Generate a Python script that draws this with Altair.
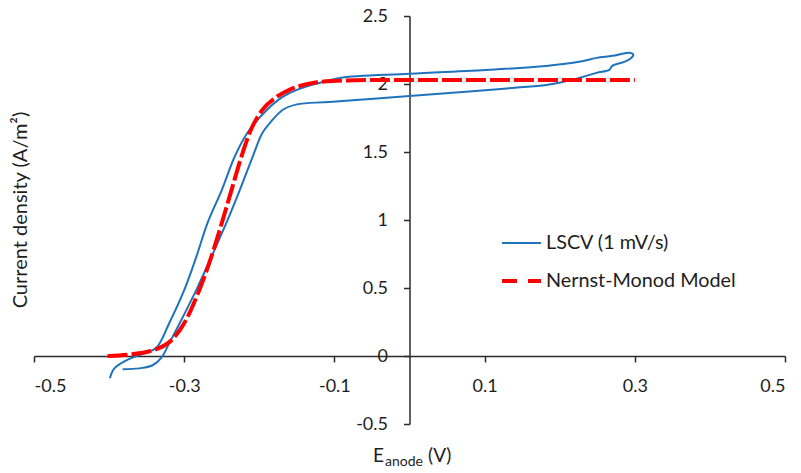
import altair as alt
import pandas as pd

# LSCV loop (forward then return scan)
lscv_x = [-0.399, -0.393, -0.377, -0.353, -0.337, -0.320, -0.300, -0.284, -0.269, -0.250,
          -0.233, -0.216, -0.190, -0.169, -0.150, -0.120, -0.093, 0.000, 0.107, 0.182,
          0.226, 0.249, 0.270, 0.293, 0.298,
          0.294, 0.286, 0.270, 0.266, 0.249, 0.226, 0.204, 0.182, 0.137, 0.071,
          0.000, -0.107, -0.150, -0.169, -0.186, -0.196, -0.209, -0.226, -0.244, -0.264,
          -0.284, -0.306, -0.320, -0.330, -0.342, -0.360, -0.382]
lscv_y = [-0.164, -0.091, -0.032, 0.020, 0.060, 0.241, 0.484, 0.727, 0.977, 1.220,
          1.463, 1.640, 1.809, 1.905, 1.957, 2.008, 2.045, 2.075, 2.104, 2.133,
          2.163, 2.192, 2.207, 2.229, 2.215,
          2.185, 2.163, 2.133, 2.104, 2.082, 2.045, 2.015, 1.993, 1.971, 1.941,
          1.912, 1.868, 1.850, 1.809, 1.713, 1.640, 1.463, 1.220, 0.977, 0.727,
          0.484, 0.241, 0.094, -0.010, -0.068, -0.091, -0.098]

# Nernst-Monod model curve
model_x = [-0.402, -0.369, -0.346, -0.337, -0.317, -0.300, -0.280, -0.264, -0.250, -0.237,
           -0.224, -0.213, -0.196, -0.177, -0.160, -0.129, -0.097, -0.053, 0.000, 0.300]
model_y = [0.000, 0.013, 0.035, 0.050, 0.116, 0.241, 0.484, 0.727, 0.977, 1.220,
           1.463, 1.640, 1.809, 1.905, 1.957, 2.008, 2.023, 2.030, 2.030, 2.030]

series_names = ["LSCV (1 mV/s)", "Nernst-Monod Model"]
series_colors = ["#1f73bd", "#ff0000"]

x_ticks = [-0.5, -0.3, -0.1, 0.1, 0.3, 0.5]
y_ticks = [-0.5, 0, 0.5, 1, 1.5, 2, 2.5]

FONT = "Lato"
AXIS_COLOR = "#2b2b2b"
TEXT_COLOR = "#1e1e1e"

lscv = pd.DataFrame({"E": lscv_x, "J": lscv_y, "series": series_names[0],
                     "idx": range(len(lscv_x))})
model = pd.DataFrame({"E": model_x, "J": model_y, "series": series_names[1],
                      "idx": range(len(model_x))})

W, H = 751, 408
xscale = alt.Scale(domain=[-0.5, 0.5], nice=False, zero=False)
yscale = alt.Scale(domain=[-0.5, 2.5], nice=False, zero=False)
cscale = alt.Scale(domain=series_names, range=series_colors)

x_axis = alt.Axis(values=x_ticks, labelExpr="toString(datum.value)", offset=-68,
                  tickSize=6, labelFontSize=18, labelPadding=15, labelFont=FONT,
                  labelColor=TEXT_COLOR, domainColor=AXIS_COLOR, tickColor=AXIS_COLOR,
                  domainWidth=1.5, tickWidth=1.5, grid=False, title=None)
y_axis = alt.Axis(values=y_ticks, labelExpr="toString(datum.value)", offset=-375.5,
                  tickSize=6, labelFontSize=18, labelPadding=16, labelFont=FONT,
                  labelColor=TEXT_COLOR, domainColor=AXIS_COLOR, tickColor=AXIS_COLOR,
                  domainWidth=1.5, tickWidth=1.5, grid=False, title=None)

color = alt.Color("series:N", scale=cscale, legend=None)

lscv_line = alt.Chart(lscv).mark_line(strokeWidth=2, interpolate="catmull-rom").encode(
    x=alt.X("E:Q", scale=xscale, axis=x_axis),
    y=alt.Y("J:Q", scale=yscale, axis=y_axis),
    order="idx:Q",
    color=color,
)
model_line = alt.Chart(model).mark_line(strokeWidth=4, strokeDash=[20, 4],
                                        interpolate="monotone").encode(
    x=alt.X("E:Q", scale=xscale),
    y=alt.Y("J:Q", scale=yscale),
    order="idx:Q",
    color=color,
)

# legend (drawn inside the plot, Excel style)
leg1 = pd.DataFrame({"series": [series_names[0]]})
leg2 = pd.DataFrame({"series": [series_names[1]]})
leg_sym1 = alt.Chart(leg1).mark_rule(strokeWidth=2).encode(
    x=alt.value(468), x2=alt.value(507), y=alt.value(227), color=color)
leg_sym2 = alt.Chart(leg2).mark_rule(strokeWidth=4, strokeDash=[15, 11]).encode(
    x=alt.value(468), x2=alt.value(507), y=alt.value(265), color=color)
leg_txt1 = alt.Chart(leg1).mark_text(font=FONT, fontSize=19.8, align="left", baseline="middle",
                                     color=TEXT_COLOR).encode(
    x=alt.value(512), y=alt.value(227), text="series:N")
leg_txt2 = alt.Chart(leg2).mark_text(font=FONT, fontSize=19.8, align="left", baseline="middle",
                                     color=TEXT_COLOR).encode(
    x=alt.value(512), y=alt.value(265), text="series:N")

# axis titles (E with subscript "anode")
xt_main = pd.DataFrame({"t": ["E"]})
xt_sub = pd.DataFrame({"t": ["anode"]})
xt_unit = pd.DataFrame({"t": ["(V)"]})
yt = pd.DataFrame({"t": ["Current density (A/m²)"]})

t1 = alt.Chart(xt_main).mark_text(font=FONT, fontSize=19, align="left", baseline="alphabetic",
                                  color=TEXT_COLOR).encode(
    x=alt.value(339), y=alt.value(446), text="t:N")
t2 = alt.Chart(xt_sub).mark_text(font=FONT, fontSize=14, align="left", baseline="alphabetic",
                                 color=TEXT_COLOR).encode(
    x=alt.value(351), y=alt.value(450), text="t:N")
t3 = alt.Chart(xt_unit).mark_text(font=FONT, fontSize=19, align="left", baseline="alphabetic",
                                  color=TEXT_COLOR).encode(
    x=alt.value(394), y=alt.value(446), text="t:N")
t4 = alt.Chart(yt).mark_text(font=FONT, fontSize=20, align="center", baseline="middle",
                             angle=270, color=TEXT_COLOR).encode(
    x=alt.value(-13), y=alt.value(194), text="t:N")

chart = alt.layer(lscv_line, model_line, leg_sym1, leg_sym2, leg_txt1, leg_txt2,
                  t1, t2, t3, t4).properties(
    width=W, height=H,
    autosize=alt.AutoSizeParams(type="none"),
    padding={"left": 34, "top": 16, "right": 16, "bottom": 49},
).configure_view(stroke=None)

chart.save("out.html", embed_options={"renderer": "svg", "actions": False})
